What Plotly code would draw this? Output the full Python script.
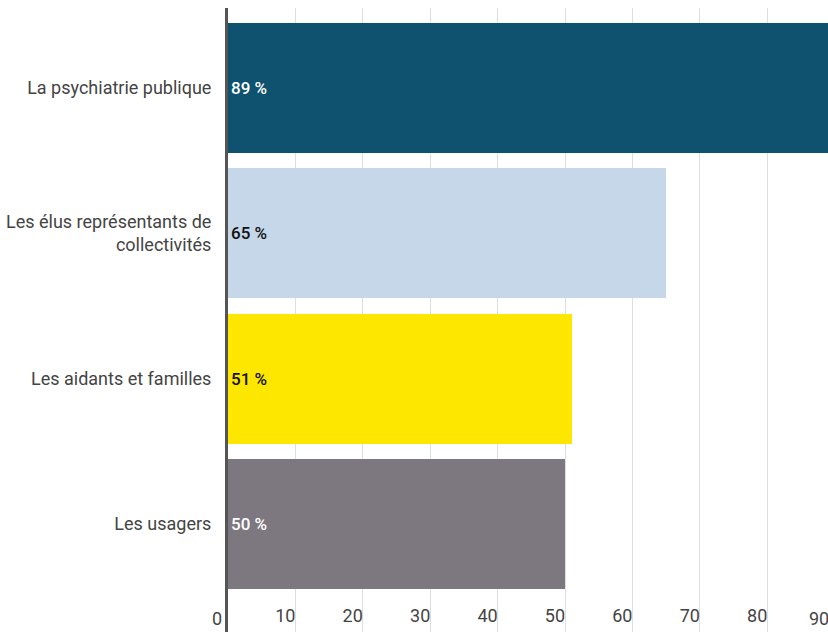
import plotly.graph_objects as go

# Survey shares by stakeholder group (percent)
categories = [
    "La psychiatrie publique",
    "Les élus représentants de<br>collectivités",
    "Les aidants et familles",
    "Les usagers",
]
values = [89, 65, 51, 50]
bar_colors = ["#0e526f", "#c5d7e8", "#fde600", "#7d7780"]
label_colors = ["#ffffff", "#111111", "#111111", "#ffffff"]
x_ticks = [10, 20, 30, 40, 50, 60, 70, 80]
edge_ticks = [0, 90]

X_MAX = 89
positions = list(range(len(categories)))

fig = go.Figure()
fig.add_trace(go.Bar(
    y=positions,
    x=values,
    orientation="h",
    width=0.895,
    marker=dict(color=bar_colors, line=dict(width=0)),
    text=[f"{v} %" for v in values],
    textposition="inside",
    insidetextanchor="start",
    textangle=0,
    textfont=dict(family="Roboto", size=17, color=label_colors, weight=500),
    cliponaxis=False,
    hoverinfo="skip",
))

# tick labels at the two edges of the value axis
for t in edge_ticks:
    fig.add_annotation(
        x=t / X_MAX, y=0, xref="paper", yref="paper",
        text=str(t), showarrow=False,
        xanchor="right", yanchor="bottom", xshift=-4, yshift=1,
        font=dict(family="Roboto", size=18, color="#444444"),
    )

fig.update_layout(
    width=828, height=632,
    margin=dict(l=228, r=0, t=8, b=0),
    paper_bgcolor="white",
    plot_bgcolor="white",
    showlegend=False,
    bargap=0,
)
fig.update_xaxes(
    range=[0, X_MAX],
    tickvals=x_ticks,
    ticktext=[str(t) for t in x_ticks],
    ticklabelposition="inside left",
    tickfont=dict(family="Roboto", size=18, color="#444444"),
    showgrid=True, gridcolor="#dedede", gridwidth=1,
    zeroline=False, showline=False,
    ticks="",
)
fig.update_yaxes(
    range=[3.743, -0.551],
    tickvals=positions,
    ticktext=categories,
    tickfont=dict(family="Roboto", size=18, color="#444444"),
    showgrid=False,
    zeroline=False,
    showline=True, linecolor="#555555", linewidth=3,
    ticks="", ticklabelstandoff=10,
)

fig.write_html("out.html")
